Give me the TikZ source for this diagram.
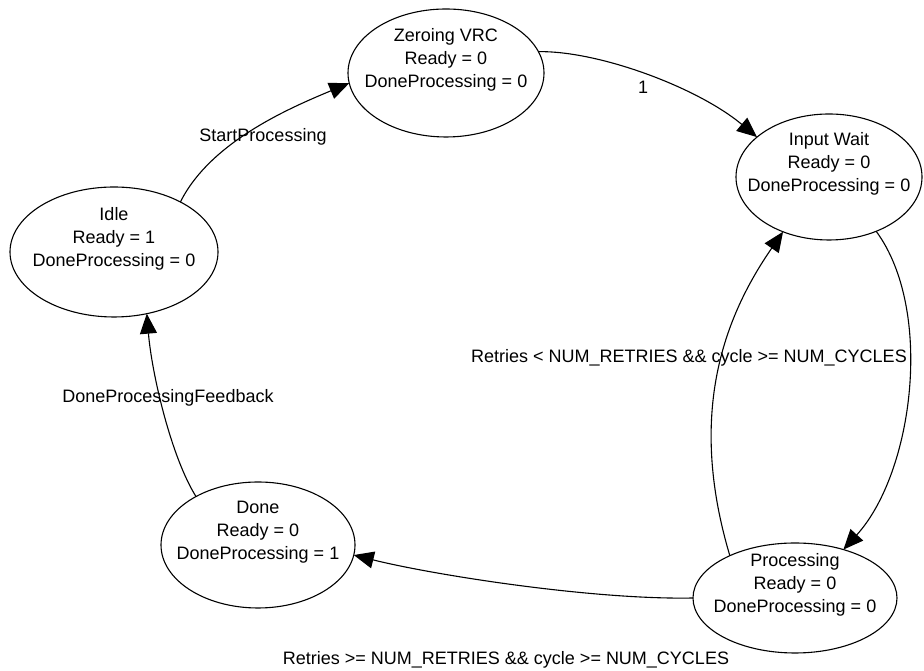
\documentclass[tikz,border=0pt]{standalone}
\usepackage{fontspec}
\setmainfont{Liberation Sans}
\usetikzlibrary{shapes.geometric,arrows.meta}

% three centred lines, lifted a little above the middle of the state
\newcommand{\stateLines}[1]{\raisebox{13pt}[\height][\depth]{%
  \begin{tabular}{@{}c@{}}#1\end{tabular}}}

\begin{document}
\begin{tikzpicture}
[x=1pt,y=1pt,
  every node/.style={inner sep=0pt,outer sep=0pt},%
  stateNode/.style={ellipse,draw,line width=1.1pt,inner xsep=-25pt},%
  edgeLabel/.style={},%
  lineDecorate/.style={-{Triangle[length=20pt,width=17pt]},line width=1.1pt}]
\fontsize{18}{23}\selectfont
\useasboundingbox (0,0) rectangle (924,671);

\node[stateNode,minimum width=196pt,minimum height=128pt] (zero) at (446,598)
  {\stateLines{Zeroing VRC\\Ready = 0\\DoneProcessing = 0}};
\node[stateNode,minimum width=186pt,minimum height=126pt] (input) at (829,494)
  {\stateLines{Input Wait\\Ready = 0\\DoneProcessing = 0}};
\node[stateNode,minimum width=208pt,minimum height=130pt] (idle) at (114,419)
  {\stateLines{Idle\\Ready = 1\\DoneProcessing = 0}};
\node[stateNode,minimum width=194pt,minimum height=126pt] (done) at (258,126)
  {\stateLines{Done\\Ready = 0\\DoneProcessing = 1}};
\node[stateNode,minimum width=204pt,minimum height=110pt] (proc) at (795,73)
  {\stateLines{Processing\\Ready = 0\\DoneProcessing = 0}};

\foreach \startNode/\startAngle/\endNode/\endAngle/\ax/\ay/\bx/\by in {
  idle/37/zero/186/30/60/-60/-25,
  zero/13/input/151/60/1/-60/50,
  input/311/proc/45/58/-79/70/77,
  proc/147/input/230/-43/144/-58/-84,
  proc/180/done/354/-100/-2/80/-20,
  done/142/idle/298/-25/40/5/-60}
{
  \draw[lineDecorate] (\startNode.\startAngle)
    .. controls +(\ax,\ay) and +(\bx,\by) .. (\endNode.\endAngle);
}

\node[edgeLabel] (lblStart) at (263,534) {StartProcessing};
\node[edgeLabel] (lblOne) at (643,584) {1};
\node[edgeLabel] (lblRetry) at (689,313)
  {Retries < NUM\_RETRIES \&\& cycle >= NUM\_CYCLES};
\node[edgeLabel] (lblFinish) at (506,11)
  {Retries >= NUM\_RETRIES \&\& cycle >= NUM\_CYCLES};
\node[edgeLabel] (lblFeedback) at (168,273) {DoneProcessingFeedback};
\end{tikzpicture}
\end{document}
